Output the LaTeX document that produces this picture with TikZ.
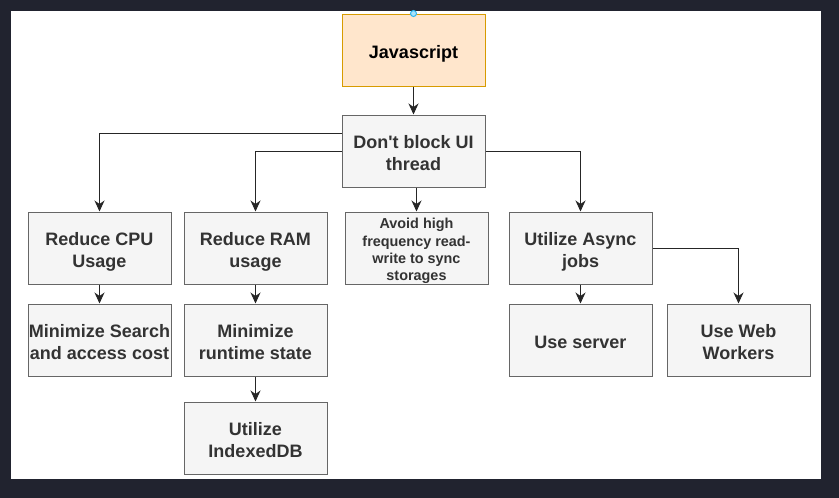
\documentclass[tikz,border=0pt]{standalone}
\usepackage{fontspec}
\setmainfont{Liberation Sans}
\usepackage{xcolor}
\usetikzlibrary{positioning,arrows.meta}

\definecolor{pagebg}{RGB}{33,35,47}
\definecolor{boxfill}{HTML}{F5F5F5}
\definecolor{boxline}{HTML}{666666}
\definecolor{boxtext}{HTML}{333333}
\definecolor{jsfill}{HTML}{FFE6CC}
\definecolor{jsline}{HTML}{D79B00}
\definecolor{handle}{HTML}{29B6F2}

% lines of a box, set a bit low as draw.io does
\newcommand{\boxlines}[1]{%
    \setbox0\hbox{\begin{tabular}{@{}c@{}}#1\end{tabular}}%
    \dimen0=\ht0 \dimen2=\dp0
    \setbox0\hbox{\lower0.19\baselineskip\box0}%
    \ht0=\dimen0 \dp0=\dimen2 \box0}

\begin{document}
\begin{tikzpicture}[
        x=1pt, y=-1pt,
        every node/.style={rectangle, draw, inner sep=0pt,
            minimum width=143pt, minimum height=72pt, line width=1pt,
            font=\bfseries\fontsize{18}{21.6}\selectfont},
        task/.style={fill=boxfill, draw=boxline, text=boxtext},
        root/.style={fill=jsfill, draw=jsline, text=black},
        small/.style={font=\bfseries\fontsize{14.4}{17.3}\selectfont},
        link/.style={-{Stealth[length=11pt,width=10pt,inset=3.5pt]}, line width=1pt, draw=black!85}
    ]
        % page and canvas
        \fill[pagebg] (0,0) rectangle (839,498);
        \fill[white] (11,11) rectangle (821,479);

        \node[root] (js) at (413.5,50) {\boxlines{Javascript}};
        \node[task, below=28pt of js] (ui) {\boxlines{Don\textquotesingle t block UI\\thread}};

        \node[task] (cpu) at (99.5,248) {\boxlines{Reduce CPU\\Usage}};
        \node[task, right=12pt of cpu] (ram) {\boxlines{Reduce RAM\\usage}};
        \node[task, small, right=17pt of ram] (avoid) {\boxlines{Avoid high\\frequency read-\\write to sync\\storages}};
        \node[task, right=20pt of avoid] (async) {\boxlines{Utilize Async\\jobs}};

        \node[task, below=19pt of cpu] (search) {\boxlines{Minimize Search\\and access cost}};
        \node[task, below=19pt of ram] (runtime) {\boxlines{Minimize\\runtime state}};
        \node[task, below=25pt of runtime] (idb) {\boxlines{Utilize\\IndexedDB}};
        \node[task, below=19pt of async] (server) {\boxlines{Use server}};
        \node[task, right=14pt of server] (web) {\boxlines{Use Web\\Workers}};

        \draw[link] (js) -- (ui);
        \draw[link] ([yshift=18pt]ui.west) -| (cpu.north);
        \draw[link] (ui.west) -| (ram.north);
        \draw[link] (ui.south -| avoid.north) -- (avoid.north);
        \draw[link] (ui.east) -| (async.north);
        \draw[link] (async.east) -| (web.north);
        \draw[link] (async) -- (server);
        \draw[link] (cpu) -- (search);
        \draw[link] (ram) -- (runtime);
        \draw[link] (runtime) -- (idb);

        % selection handle
        \fill[handle!40, draw=handle, line width=1pt] (js.north) circle (3pt);
    \end{tikzpicture}
\end{document}
